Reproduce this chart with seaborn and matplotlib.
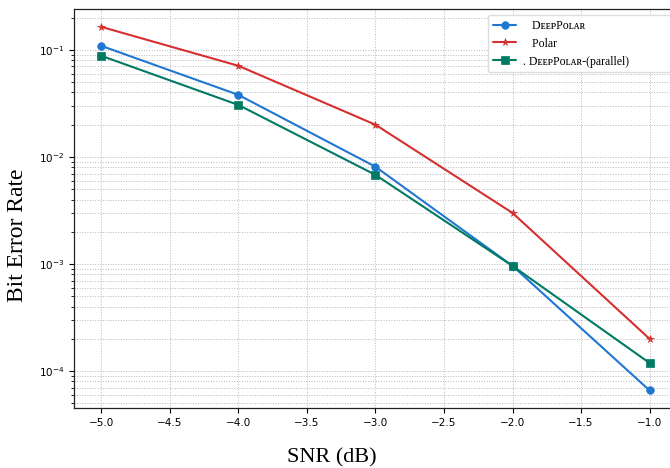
import matplotlib
matplotlib.use("Agg")
import matplotlib.pyplot as plt
import seaborn as sns
import pandas as pd

snr = [-5.0, -4.0, -3.0, -2.0, -1.0]
ber_deeppolar = [0.109, 0.038, 0.0081, 0.00096, 6.6e-5]
ber_polar = [0.164, 0.071, 0.020, 0.0030, 2.0e-4]
ber_parallel = [0.088, 0.0306, 0.0068, 0.00096, 1.19e-4]

lab_dp = "   DᴇᴇᴘPᴏʟᴀʀ"
lab_po = "   Polar"
lab_pa = ". DᴇᴇᴘPᴏʟᴀʀ-(parallel)"
series_names = [lab_dp, lab_po, lab_pa]

rows = []
for name, vals in zip(series_names, [ber_deeppolar, ber_polar, ber_parallel]):
    for x, y in zip(snr, vals):
        rows.append({"SNR": x, "BER": y, "Scheme": name})
df = pd.DataFrame(rows)

sns.set_style("white")
plt.rcParams["font.family"] = ["DejaVu Sans"]

fig = plt.figure(figsize=(6.7, 4.68), dpi=100)
ax = fig.add_axes([0.1104, 0.128, 0.9, 0.853])

palette = {lab_dp: "#1f77d2", lab_po: "#d62f2f", lab_pa: "#007a63"}
markers = {lab_dp: "o", lab_po: "*", lab_pa: "s"}
sns.lineplot(data=df, x="SNR", y="BER", hue="Scheme", style="Scheme",
             hue_order=series_names, style_order=series_names,
             palette=palette, markers=markers, dashes=False,
             markersize=5.5, linewidth=1.5,
             ax=ax, legend=False)

for ln in ax.lines:
    ln.set_markeredgecolor(ln.get_color())
    ln.set_markeredgewidth(0.5)

ax.set_yscale("log")
ax.set_xlim(-5.2, -0.8)
ax.set_ylim(4.51e-5, 0.2415)
ax.set_xticks([-5.0, -4.5, -4.0, -3.5, -3.0, -2.5, -2.0, -1.5, -1.0])
ax.grid(True, which="both", linestyle=":", color="#b8b8b8", linewidth=0.7)
ax.tick_params(axis="both", which="major", labelsize=7.5, length=3.5, width=0.8,
               direction="out", bottom=True, left=True, colors="black")
ax.tick_params(axis="y", which="minor", length=2, width=0.6, left=True, colors="black")
for s in ax.spines.values():
    s.set_color("#222222")
    s.set_linewidth(0.9)

ax.set_xlabel("SNR (dB)", fontsize=16, family=["Liberation Serif"], color="black")
ax.set_ylabel("Bit Error Rate", fontsize=17, family=["Liberation Serif"], color="black")
ax.xaxis.set_label_coords(0.428, -0.100)
ax.yaxis.set_label_coords(-0.076, 0.434)

leg = ax.legend(handles=list(ax.lines), labels=series_names,
                loc="upper left", bbox_to_anchor=(488 / 670, 1 - 15 / 468, 0.3, 0.0),
                bbox_transform=fig.transFigure, mode="expand", borderaxespad=0,
                prop={"family": ["Liberation Serif", "DejaVu Serif"], "size": 8.5},
                labelspacing=0.5, borderpad=0.4, handlelength=2.0, handletextpad=0.6,
                frameon=True, fancybox=True, framealpha=1.0, edgecolor="#dddddd")
for t in leg.get_texts():
    t.set_color("black")

fig.savefig("out.png", dpi=100)
